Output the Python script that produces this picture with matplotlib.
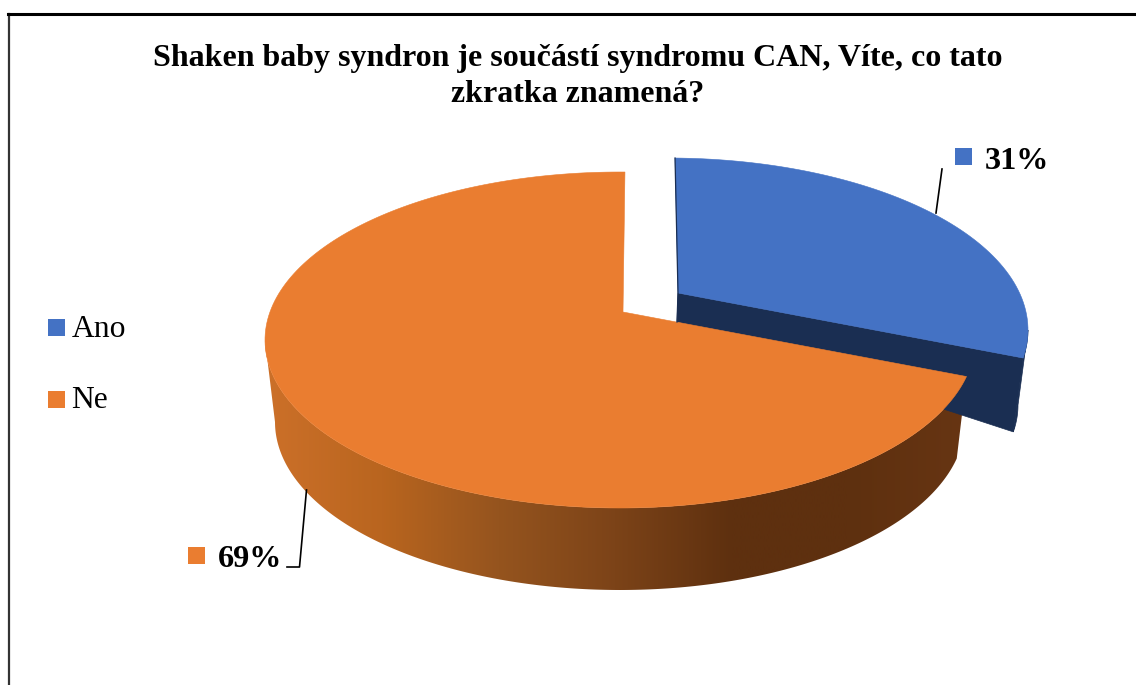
import numpy as np
import matplotlib
matplotlib.use("Agg")
import matplotlib.pyplot as plt
from matplotlib.colors import LinearSegmentedColormap
from matplotlib.patches import Polygon, Rectangle

categories = ["Ano", "Ne"]
values = [31, 69]
title_lines = ["Shaken baby syndron je součástí syndromu CAN, Víte, co tato", "zkratka znamená?"]

BLUE = "#4472C4"
NAVY = "#1A2E52"
ORANGE = "#EA7D30"
SIDE_COLORS = ["#CC7029", "#B9651F", "#95541E", "#7C4318", "#5E300F", "#5E300F", "#673513"]

plt.rcParams["font.family"] = ["Liberation Serif", "DejaVu Serif"]

W, H = 1136, 685
fig = plt.figure(figsize=(W / 100, H / 100), dpi=100)
ax = fig.add_axes([0, 0, 1, 1])
ax.set_xlim(0, W)
ax.set_ylim(H, 0)
ax.axis("off")

# the outer frame, only top and left are inside the crop
ax.plot([8.5, 8.5], [14, H], color="#333333", lw=1.6)
ax.plot([7.5, W], [14, 14], color="black", lw=2.2)


def rim(apex, c, rx, ry, lean, theta):
    # where the ray from the apex at pie angle theta meets the top ellipse
    dx = rx * np.sin(theta) + lean * ry * np.cos(theta)
    dy = -ry * np.cos(theta)
    ox, oy = (apex[0] - c[0]) / rx, (apex[1] - c[1]) / ry
    ux, uy = dx / rx, dy / ry
    a = ux**2 + uy**2
    b = ox * ux + oy * uy
    t = (-b + np.sqrt(b**2 - a * (ox**2 + oy**2 - 1))) / a
    return apex[0] + t * dx, apex[1] + t * dy


def ellipse(c, rx, ry, t):
    return np.column_stack([c[0] + rx * np.cos(t), c[1] - ry * np.sin(t)])


def param(c, rx, ry, x, y):
    return np.arctan2((c[1] - y) / ry, (x - c[0]) / rx)


cut = 2 * np.pi * values[0] / sum(values)

# blue slice, pulled out of the pie
apex = (678, 293)
low_apex = (677, 322)
c, rx, ry = (668, 330), 360, 172
low_c, low_rx, low_ry = (668, 405), 350, 165
theta = np.linspace(0, cut, 80)
bx, by = rim(apex, c, rx, ry, -0.022, theta)
t_end = param(c, rx, ry, bx[-1], by[-1])
low_end = ellipse(low_c, low_rx, low_ry, np.array([t_end]))[0]
t = np.linspace(t_end, 0, 20)
ax.add_patch(Polygon(np.vstack([ellipse(c, rx, ry, t), ellipse(low_c, low_rx, low_ry, t)[::-1]]),
                     fc=NAVY, ec=NAVY, lw=0.5))
ax.add_patch(Polygon([apex, (bx[-1], by[-1]), low_end, low_apex], fc=NAVY, ec=NAVY, lw=0.5))
ax.add_patch(Polygon(np.column_stack([np.r_[apex[0], bx], np.r_[apex[1], by]]), fc=BLUE, ec=BLUE, lw=0.4))
ax.plot([bx[0], apex[0], low_apex[0]], [by[0], apex[1], low_apex[1]], color=NAVY, lw=0.9)

# orange slice
apex = (623, 312)
c, rx, ry = (620, 340), 355, 168
low_c, low_rx, low_ry = (620, 422), 345, 168
theta = np.linspace(cut, 2 * np.pi, 200)
ox, oy = rim(apex, c, rx, ry, 0.014, theta)
t_end = param(c, rx, ry, ox[0], oy[0])
t = np.linspace(t_end, -np.pi, 200)
side = Polygon(np.vstack([ellipse(c, rx, ry, t), ellipse(low_c, low_rx, low_ry, t)[::-1]]),
               fc="none", ec="none")
ax.add_patch(side)
cmap = LinearSegmentedColormap.from_list("side", SIDE_COLORS)
im = ax.imshow(np.linspace(0, 1, 256)[None, :], cmap=cmap, aspect="auto",
               extent=[265, 966, H, 0], interpolation="bilinear")
im.set_clip_path(side)
ax.set_xlim(0, W)
ax.set_ylim(H, 0)
ax.add_patch(Polygon(np.column_stack([np.r_[apex[0], ox], np.r_[apex[1], oy]]), fc=ORANGE, ec=ORANGE, lw=0.4))

# leader lines
ax.plot([942, 936], [169, 213], color="black", lw=1.2)
ax.plot([306.5, 299.5, 287], [490, 567, 567], color="black", lw=1.2)

# data labels
ax.add_patch(Rectangle((955, 148), 17, 17, fc=BLUE, ec="none"))
ax.text(985, 169, f"{values[0]}%", fontsize=23.2, fontweight="bold", va="baseline")
ax.add_patch(Rectangle((188, 547), 17, 16.5, fc=ORANGE, ec="none"))
ax.text(218, 567, f"{values[1]}%", fontsize=23.2, fontweight="bold", va="baseline")

# legend
for name, col, y_box, y_text in zip(categories, [BLUE, ORANGE], [319, 391], [337, 408]):
    ax.add_patch(Rectangle((48, y_box), 17, 16.5, fc=col, ec="none"))
    ax.text(71.5, y_text, name, fontsize=22.8, va="baseline")

for line, y_text in zip(title_lines, [66, 102]):
    ax.text(577.5, y_text, line, fontsize=23, fontweight="bold", ha="center", va="baseline")

fig.savefig("out.png", dpi=100)
